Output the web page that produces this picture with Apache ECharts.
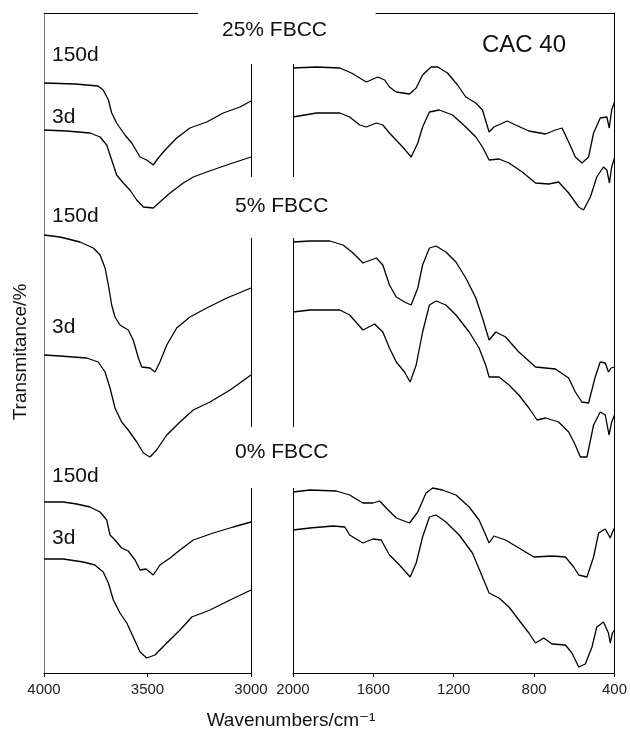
<!DOCTYPE html>
<html>
<head>
<meta charset="utf-8">
<script src="https://cdn.jsdelivr.net/npm/echarts@6/dist/echarts.min.js"></script>
<style>
  html, body { margin: 0; padding: 0; background: #fff; }
  #chart { width: 630px; height: 733px; }
</style>
</head>
<body>
<div id="chart"></div>
<script>
// wavenumber (cm-1), transmittance (a.u., stacked with offsets)
const fb25_150d_hi = [[4000,590],[3850,589],[3739,587],[3714,583],[3689,573],[3673,560],[3649,550],[3609,538],[3576,530],[3536,516],[3504,513],[3472,508],[3448,515],[3415,523],[3359,535],[3295,545],[3214,551],[3134,560],[3053,566],[3000,572]]
const fb25_3d_hi = [[4000,543],[3890,542],[3778,540],[3729,536],[3697,528],[3673,513],[3649,498],[3617,490],[3585,483],[3552,473],[3520,466],[3472,465],[3440,471],[3391,480],[3327,490],[3279,496],[3214,501],[3117,508],[3000,516]]
const fb25_150d_lo = [[2000,605],[1883,606],[1767,605],[1709,600],[1668,595],[1635,591],[1578,596],[1544,593],[1520,586],[1486,581],[1420,579],[1387,585],[1355,598],[1313,606],[1280,606],[1231,600],[1181,588],[1140,576],[1090,570],[1057,563],[1024,541],[1000,546],[934,552],[892,548],[826,542],[743,539],[694,543],[661,545],[628,531],[595,516],[562,510],[529,516],[504,540],[471,555],[438,556],[426,545],[414,563],[400,571]]
const fb25_3d_lo = [[2000,556],[1883,560],[1767,560],[1718,556],[1668,548],[1635,546],[1585,550],[1553,548],[1520,540],[1454,526],[1412,516],[1379,530],[1355,546],[1321,561],[1272,563],[1206,558],[1140,546],[1090,536],[1057,526],[1024,513],[975,514],[925,510],[859,501],[793,490],[727,489],[678,491],[628,480],[578,466],[554,463],[520,476],[488,496],[455,506],[438,503],[425,490],[414,506],[400,515]]

const fb5_150d_hi = [[4000,438],[3923,436],[3826,431],[3762,425],[3729,418],[3705,405],[3689,388],[3673,368],[3657,356],[3633,348],[3593,343],[3569,333],[3544,315],[3528,306],[3488,305],[3464,301],[3440,311],[3407,328],[3359,345],[3295,356],[3214,365],[3117,375],[3000,385]]
const fb5_3d_hi = [[4000,318],[3923,317],[3794,315],[3738,311],[3705,301],[3681,285],[3657,265],[3625,251],[3593,243],[3552,231],[3520,220],[3488,216],[3456,223],[3407,238],[3343,251],[3279,263],[3198,271],[3101,283],[3000,298]]
const fb5_150d_lo = [[2000,431],[1916,432],[1817,432],[1751,428],[1701,420],[1652,410],[1585,415],[1553,408],[1520,388],[1486,376],[1445,371],[1412,368],[1379,385],[1355,408],[1321,425],[1288,427],[1239,421],[1189,411],[1140,395],[1090,375],[1057,355],[1024,333],[991,341],[942,336],[876,321],[793,306],[694,304],[628,295],[595,281],[562,271],[529,270],[496,296],[471,311],[446,310],[430,301],[417,305],[400,306]]
const fb5_3d_lo = [[2000,361],[1916,363],[1767,363],[1718,358],[1652,343],[1594,349],[1553,341],[1520,325],[1486,311],[1445,301],[1417,291],[1387,308],[1355,341],[1321,368],[1288,372],[1239,368],[1189,358],[1123,341],[1074,325],[1041,308],[1024,296],[975,296],[925,288],[876,278],[826,265],[785,253],[743,255],[678,251],[628,241],[595,228],[570,216],[537,216],[504,248],[471,261],[446,258],[427,238],[414,251],[400,258]]

const fb0_150d_hi = [[4000,171],[3907,171],[3842,169],[3778,166],[3729,161],[3697,153],[3681,138],[3657,133],[3625,125],[3593,122],[3560,113],[3536,103],[3507,104],[3472,98],[3440,108],[3391,115],[3343,123],[3279,133],[3182,140],[3086,146],[3000,151]]
const fb0_3d_hi = [[4000,114],[3907,114],[3810,111],[3754,108],[3714,101],[3689,90],[3665,73],[3633,60],[3600,50],[3569,36],[3536,21],[3504,15],[3464,18],[3407,30],[3343,43],[3286,56],[3198,63],[3101,73],[3000,83]]
const fb0_150d_lo = [[2000,181],[1916,183],[1784,182],[1718,178],[1652,170],[1602,170],[1569,172],[1536,165],[1486,155],[1420,150],[1379,161],[1338,180],[1305,185],[1256,183],[1189,178],[1123,166],[1074,153],[1041,138],[1024,130],[1000,137],[942,133],[876,125],[801,116],[711,117],[644,116],[603,106],[578,98],[537,96],[504,116],[479,140],[446,144],[421,135],[410,141],[400,145]]
const fb0_3d_lo = [[2000,143],[1916,145],[1800,147],[1742,146],[1718,138],[1652,130],[1602,134],[1561,133],[1520,118],[1470,108],[1417,96],[1387,110],[1355,136],[1321,156],[1288,158],[1239,151],[1173,138],[1107,120],[1057,96],[1024,80],[975,75],[925,66],[876,53],[826,40],[793,30],[752,35],[711,29],[644,28],[612,20],[578,6],[545,9],[512,26],[488,46],[455,51],[430,40],[421,30],[410,40],[400,43]]

// where the axis break lines are drawn for each group (transmittance range)
const breakRanges = [[609,496],[435,246],[185,0]]

const chart = echarts.init(document.getElementById('chart'))
const FONT = '"Liberation Sans", Arial, "DejaVu Sans", sans-serif'

function curve(data, grid, breakIdx) {
  const s = {
    type: 'line',
    xAxisIndex: grid,
    yAxisIndex: grid,
    data: data,
    showSymbol: false,
    lineStyle: { color: '#000', width: 1.3 },
    silent: true
  }
  if (breakIdx != null) {
    const xb = grid === 0 ? 3000 : 2000
    const r = breakRanges[breakIdx]
    const lines = [[{ coord: [xb, r[0]] }, { coord: [xb, r[1]] }]]
    if (breakIdx === 0) {
      // top frame pieces, interrupted by the title
      if (grid === 0) lines.push([{ coord: [4000, 660] }, { coord: [3256, 660] }])
      else lines.push([{ coord: [1589, 660] }, { coord: [400, 660] }])
    }
    s.markLine = {
      symbol: 'none',
      silent: true,
      label: { show: false },
      lineStyle: { color: '#000', width: 1, type: 'solid' },
      data: lines
    }
  }
  return s
}

function label(text, x, y, size) {
  return {
    type: 'text', x: x, y: y,
    style: { text: text, fill: '#111', font: size + 'px ' + FONT, textVerticalAlign: 'middle' }
  }
}

const tickLabel = { color: '#222', fontSize: 15, fontFamily: FONT, margin: 9, formatter: v => String(v) }

const option = {
  animation: false,
  grid: [
    { left: 44, top: 13, width: 207, height: 660 },
    { left: 293, top: 13, width: 323, height: 660 }
  ],
  xAxis: [
    {
      gridIndex: 0, type: 'value', inverse: true, min: 3000, max: 4000, interval: 500,
      axisLine: { lineStyle: { color: '#000', width: 1 } },
      axisTick: { inside: false, length: 4, lineStyle: { color: '#000' } },
      axisLabel: tickLabel,
      splitLine: { show: false }
    },
    {
      gridIndex: 1, type: 'value', inverse: true, min: 400, max: 2000, interval: 400,
      axisLine: { lineStyle: { color: '#000', width: 1 } },
      axisTick: { inside: false, length: 4, lineStyle: { color: '#000' } },
      axisLabel: tickLabel,
      splitLine: { show: false }
    }
  ],
  yAxis: [
    {
      gridIndex: 0, type: 'value', min: 0, max: 660,
      axisLine: { show: true, lineStyle: { color: '#808080', width: 1 } },
      axisTick: { show: false }, axisLabel: { show: false }, splitLine: { show: false }
    },
    {
      gridIndex: 1, type: 'value', min: 0, max: 660, position: 'right',
      axisLine: { show: true, lineStyle: { color: '#000', width: 1 } },
      axisTick: { show: false }, axisLabel: { show: false }, splitLine: { show: false }
    }
  ],
  series: [
    curve(fb25_150d_hi, 0, 0), curve(fb25_3d_hi, 0),
    curve(fb25_150d_lo, 1, 0), curve(fb25_3d_lo, 1),
    curve(fb5_150d_hi, 0, 1), curve(fb5_3d_hi, 0),
    curve(fb5_150d_lo, 1, 1), curve(fb5_3d_lo, 1),
    curve(fb0_150d_hi, 0, 2), curve(fb0_3d_hi, 0),
    curve(fb0_150d_lo, 1, 2), curve(fb0_3d_lo, 1)
  ],
  graphic: [
    label('25% FBCC', 222, 30, 21),
    label('CAC 40', 482, 45, 24),
    label('150d', 52, 55, 21),
    label('3d', 52, 117, 21),
    label('5% FBCC', 235, 206, 21),
    label('150d', 52, 216, 21),
    label('3d', 52, 327, 21),
    label('0% FBCC', 235, 452, 21),
    label('150d', 52, 476, 21),
    label('3d', 52, 538, 21),
    {
      type: 'text', x: 291, y: 721,
      style: { text: 'Wavenumbers/cm\u207B\u00B9', fill: '#111', font: '19px ' + FONT, textAlign: 'center', textVerticalAlign: 'middle' }
    },
    {
      type: 'text', x: 21, y: 352, rotation: Math.PI / 2,
      style: { text: 'Transmitance/%', fill: '#111', font: '19px ' + FONT, textAlign: 'center', textVerticalAlign: 'middle' }
    }
  ]
}

chart.setOption(option)
</script>
</body>
</html>
